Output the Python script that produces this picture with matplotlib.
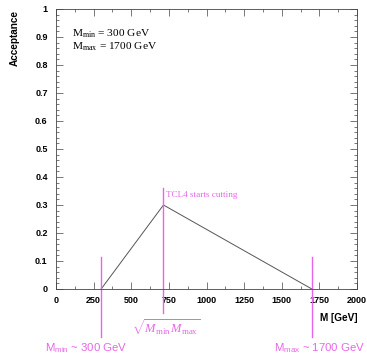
import matplotlib.pyplot as plt
import numpy as np

plt.rcParams["mathtext.fontset"] = "custom"
plt.rcParams["mathtext.rm"] = "Liberation Serif"
plt.rcParams["mathtext.it"] = "Liberation Serif:italic"
plt.rcParams["mathtext.sf"] = "Liberation Sans"

# acceptance vs mass: rises from M_min to the geometric mean, falls to M_max
mass = [300, 714, 1700]
acceptance = [0.0, 0.3, 0.0]
m_min = 300
m_max = 1700
m_cut = 714

magenta = "#e865e8"

fig = plt.figure(figsize=(3.67, 3.57), dpi=100)
ax = fig.add_axes([56 / 367, 68 / 357, 301 / 367, 280 / 357])

ax.plot(mass, acceptance, color="#555555", lw=0.7)

ax.set_xlim(0, 2000)
ax.set_ylim(0, 1)
ax.set_xticks(np.arange(0, 2001, 250))
ax.set_xticks(np.arange(0, 2001, 125), minor=True)
ax.set_yticks(np.arange(0, 1.01, 0.1))
ax.set_yticks(np.arange(0, 1.01, 0.02), minor=True)
ax.set_yticklabels(["0", "0.1", "0.2", "0.3", "0.4", "0.5", "0.6", "0.7", "0.8", "0.9", "1"])
ax.tick_params(which="both", direction="in", top=True, right=True, width=0.5, color="#444444")
ax.tick_params(which="major", length=5)
ax.tick_params(which="minor", length=2.5)
ax.tick_params(axis="x", pad=5)
ax.tick_params(axis="y", pad=6)
for lbl in ax.get_xticklabels() + ax.get_yticklabels():
    lbl.set_fontfamily("Liberation Sans")
    lbl.set_fontweight("bold")
    lbl.set_fontsize(6.5)
for s in ax.spines.values():
    s.set_linewidth(0.6)
    s.set_color("#444444")

fig.text(15 / 367, 1 - 10 / 357, "Acceptance", rotation=90, ha="center", va="top",
         family="Liberation Sans", weight="bold", fontsize=7.2)
fig.text(357 / 367, 1 - 318 / 357, "M [GeV]", ha="right", va="center",
         family="Liberation Sans", weight="bold", fontsize=7.2)

ax.text(0.053, 0.935, r"M$_{\rm min}$ = 300 GeV" + "\n" + r"M$_{\rm max}$ = 1700 GeV",
        transform=ax.transAxes, ha="left", va="top", family="Liberation Serif",
        fontsize=8.2, linespacing=1.05)

# vertical markers extending below the axes
for x in [m_min, m_max]:
    ax.plot([x, x], [0.115, -0.17], color=magenta, lw=1.0, clip_on=False)
ax.plot([m_cut, m_cut], [0.36, -0.085], color=magenta, lw=1.0, clip_on=False)

ax.text(m_cut + 15, 0.335, "TCL4 starts cutting", color=magenta, family="Liberation Serif",
        fontsize=6.6, ha="left", va="center")
ax.text(m_cut + 20, -0.135, r"$\sqrt{M_{\rm min}\,M_{\rm max}}$", color=magenta, fontsize=9,
        ha="center", va="center")
fig.text(45 / 367, 1 - 348 / 357, r"M$_{\mathsf{min}}$ ~ 300 GeV", color=magenta,
         family="Liberation Sans", fontsize=8.2, ha="left", va="center")
fig.text(365 / 367, 1 - 348 / 357, r"M$_{\mathsf{max}}$ ~ 1700 GeV", color=magenta,
         family="Liberation Sans", fontsize=8.2, ha="right", va="center")

fig.savefig("out.png", dpi=100)
